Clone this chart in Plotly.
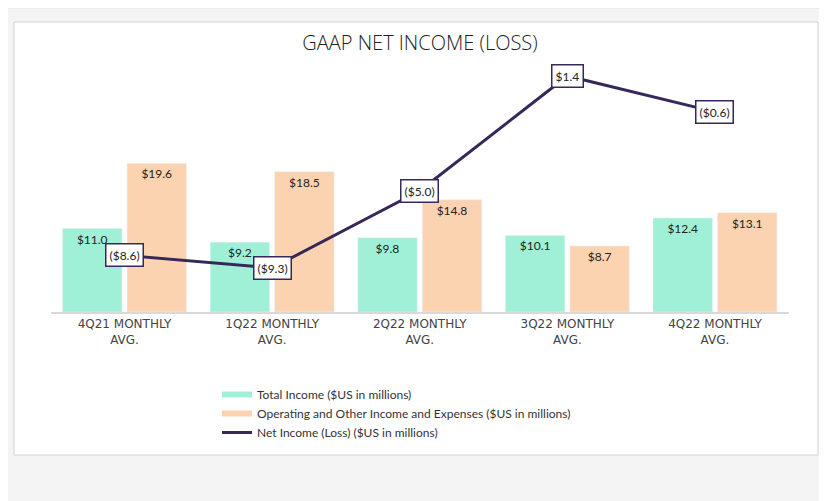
import plotly.graph_objects as go

categories = ["4Q21 MONTHLY<br>AVG.", "1Q22 MONTHLY<br>AVG.", "2Q22 MONTHLY<br>AVG.",
              "3Q22 MONTHLY<br>AVG.", "4Q22 MONTHLY<br>AVG."]
total_income = [11.0, 9.2, 9.8, 10.1, 12.4]
operating_other = [19.6, 18.5, 14.8, 8.7, 13.1]
net_income = [-8.6, -9.3, -5.0, 1.4, -0.6]

name_total = "Total Income ($US in millions)"
name_oper = "Operating and Other Income and Expenses ($US in millions)"
name_net = "Net Income (Loss) ($US in millions)"

TEAL = "#a0f0d8"
PEACH = "#fcd3b1"
PURPLE = "#36285a"

# the page body has an 8px margin; work in page pixels and convert
OX, OY = 8, 8
W, H = 827 - OX, 501 - OY


def px(x):
    return (x - OX) / W


def py(y):
    return 1 - (y - OY) / H


def money(v):
    return f"(${abs(v):.1f})" if v < 0 else f"${v:.1f}"


fig = go.Figure()
fig.add_trace(go.Bar(x=categories, y=total_income, marker_color=TEAL, name=name_total,
                     showlegend=False, text=[money(v) for v in total_income],
                     textposition="inside", insidetextanchor="end",
                     textfont=dict(size=12, color="#222222", family="Lato"),
                     hoverinfo="skip"))
fig.add_trace(go.Bar(x=categories, y=operating_other, marker_color=PEACH, name=name_oper,
                     showlegend=False, text=[money(v) for v in operating_other],
                     textposition="inside", insidetextanchor="end",
                     textfont=dict(size=12, color="#222222", family="Lato"),
                     hoverinfo="skip"))
fig.add_trace(go.Scatter(x=categories, y=net_income, mode="lines", yaxis="y2",
                         line=dict(color=PURPLE, width=3), name=name_net,
                         legendrank=3))
# legend swatches (line-style) for the bar series
fig.add_trace(go.Scatter(x=[None], y=[None], mode="lines", line=dict(color=TEAL, width=6),
                         name=name_total, legendrank=1))
fig.add_trace(go.Scatter(x=[None], y=[None], mode="lines", line=dict(color=PEACH, width=6),
                         name=name_oper, legendrank=2))

for c, v in zip(categories, net_income):
    fig.add_annotation(x=c, y=v, xref="x", yref="y2", text=money(v), showarrow=False,
                       font=dict(size=12, color="#222222", family="Lato"),
                       bgcolor="white", bordercolor=PURPLE, borderwidth=1.5, borderpad=3)

y_top_px, y_bot_px = 60, 312
x_left_px, x_right_px = 50.7, 788.8
px_per_bar = 7.58
px_per_line = 17.94
zero_line_px = 101.1

fig.update_layout(
    width=W, height=H,
    margin=dict(l=0, r=0, t=0, b=0),
    paper_bgcolor="white",
    plot_bgcolor="rgba(0,0,0,0)",
    barmode="group", bargap=0.126, bargroupgap=0.08,
    font=dict(family="Lato", color="#333333"),
    title=dict(text="GAAP NET INCOME (LOSS)", x=px(420), y=py(43),
               xanchor="center", yanchor="middle",
               font=dict(size=20, color="#222222", family="Open Sans", weight=300)),
    xaxis=dict(domain=[px(x_left_px), px(x_right_px)], automargin=False,
               showline=True, linecolor="#d9d9d9", linewidth=1.5,
               tickfont=dict(size=12, color="#444444", family="DejaVu Sans"),
               ticks="", showgrid=False),
    yaxis=dict(domain=[py(y_bot_px), py(y_top_px)], automargin=False,
               range=[0, (y_bot_px - y_top_px) / px_per_bar],
               visible=False, showgrid=False, zeroline=False),
    yaxis2=dict(overlaying="y", automargin=False,
                range=[-(y_bot_px - zero_line_px) / px_per_line,
                       (zero_line_px - y_top_px) / px_per_line],
                visible=False, showgrid=False, zeroline=False),
    legend=dict(x=px(217), y=py(380), xanchor="left", yanchor="top",
                font=dict(size=12, color="#333333", family="Lato"),
                bgcolor="rgba(0,0,0,0)", traceorder="normal"),
    shapes=[
        dict(type="rect", xref="paper", yref="paper", x0=-0.01, x1=1.01, y0=-0.01,
             y1=1.0, fillcolor="#f4f4f4", line=dict(color="#e2e2e2", width=1),
             layer="below"),
        dict(type="rect", xref="paper", yref="paper", x0=px(14), x1=px(818),
             y0=py(455), y1=py(22), fillcolor="white",
             line=dict(color="#d4d4d4", width=1), layer="below"),
    ],
)

fig.write_html("out.html")
